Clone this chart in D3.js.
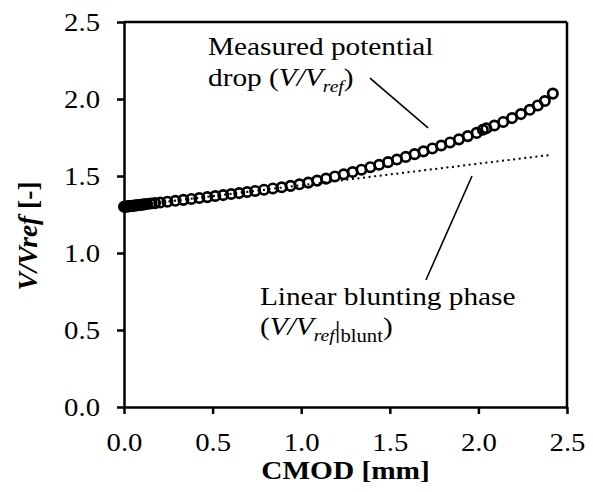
<!DOCTYPE html>
<html>
<head>
<meta charset="utf-8">
<script src="https://cdn.jsdelivr.net/npm/d3@7"></script>
<style>
  body { margin: 0; background: #fff; }
  svg { display: block; font-family: "Liberation Serif", "Times New Roman", serif; }
</style>
</head>
<body>
<div id="chart"></div>
<script>
// measured potential drop, V/Vref vs CMOD [mm]
var cmod = [0.000, 0.006, 0.012, 0.018, 0.024, 0.030, 0.037, 0.044, 0.052, 0.060,
            0.069, 0.079, 0.090, 0.102, 0.115, 0.130, 0.150, 0.175, 0.205, 0.245,
            0.290, 0.335, 0.380, 0.425, 0.470, 0.515, 0.560, 0.605, 0.650, 0.695,
            0.740, 0.790, 0.840, 0.890, 0.940, 0.990, 1.040, 1.090, 1.140, 1.190,
            1.240, 1.290, 1.340, 1.390, 1.440, 1.490, 1.540, 1.590, 1.640, 1.690,
            1.740, 1.790, 1.840, 1.890, 1.940, 1.990, 2.025, 2.045, 2.090, 2.140,
            2.190, 2.240, 2.290, 2.335, 2.375, 2.420];
var vRatio = [1.300, 1.301, 1.302, 1.302, 1.303, 1.304, 1.305, 1.306, 1.307, 1.308,
              1.309, 1.311, 1.312, 1.314, 1.316, 1.318, 1.321, 1.324, 1.328, 1.333,
              1.339, 1.345, 1.351, 1.357, 1.363, 1.370, 1.376, 1.383, 1.389, 1.396,
              1.403, 1.411, 1.419, 1.427, 1.436, 1.446, 1.457, 1.470, 1.483, 1.497,
              1.511, 1.526, 1.541, 1.557, 1.573, 1.590, 1.607, 1.624, 1.642, 1.660,
              1.679, 1.698, 1.718, 1.738, 1.759, 1.780, 1.800, 1.810, 1.828, 1.851,
              1.876, 1.902, 1.930, 1.958, 1.987, 2.035];

// linear blunting phase (dotted)
var bluntCmod = [0.0, 2.40];
var bluntV = [1.300, 1.636];

var xTicks = [0, 0.5, 1.0, 1.5, 2.0, 2.5];
var yTicks = [0, 0.5, 1.0, 1.5, 2.0, 2.5];

var margin = {top: 22, right: 26, bottom: 85, left: 124},
    width = 593,
    height = 492,
    width_g = width - margin.left - margin.right,
    height_g = height - margin.top - margin.bottom;
var stretch = 1.15; // text in the original is a bit wide

var x = d3.scaleLinear().domain([0, 2.5]).range([0, width_g]);
var y = d3.scaleLinear().domain([0, 2.5]).range([height_g, 0]);

var svg = d3.select("#chart").append("svg")
    .attr("width", width)
    .attr("height", height);
var frg = svg.append("g")
    .attr("transform", "translate(" + margin.left + "," + margin.top + ")");

// frame top + right
frg.append("line")
    .attr("x1", 0).attr("x2", width_g).attr("y1", 0).attr("y2", 0)
    .attr("stroke", "#000").attr("stroke-width", 2.5);
frg.append("line")
    .attr("x1", width_g).attr("x2", width_g).attr("y1", 0).attr("y2", height_g)
    .attr("stroke", "#000").attr("stroke-width", 2.5);

var xAxis = d3.axisBottom(x).tickValues(xTicks).tickFormat(d3.format(".1f"))
    .tickSizeInner(7).tickSizeOuter(0);
var yAxis = d3.axisLeft(y).tickValues(yTicks).tickFormat(d3.format(".1f"))
    .tickSizeInner(7).tickSizeOuter(0);

var gx = frg.append("g")
    .attr("transform", "translate(0," + height_g + ")")
    .call(xAxis);
var gy = frg.append("g").call(yAxis);

[gx, gy].forEach(function(g) {
    g.select(".domain").attr("stroke-width", 2.5);
    g.selectAll(".tick line").attr("stroke-width", 2.5);
    g.selectAll(".tick text")
        .attr("font-family", "Liberation Serif, Times New Roman, serif")
        .attr("font-size", 25)
        .attr("fill", "#000");
});
gx.selectAll(".tick text")
    .attr("y", 44).attr("dy", 0)
    .attr("transform", "scale(" + stretch + ",1)");
gy.selectAll(".tick text")
    .attr("x", -24 / stretch)
    .attr("transform", "scale(" + stretch + ",1)");

// dotted blunting line
var bluntData = bluntCmod.map(function(d, i) { return {x: d, v: bluntV[i]}; });
frg.append("path")
    .datum(bluntData)
    .attr("d", d3.line().x(function(d) { return x(d.x); }).y(function(d) { return y(d.v); }))
    .attr("fill", "none")
    .attr("stroke", "#000")
    .attr("stroke-width", 2)
    .attr("stroke-dasharray", "2,3.6");

// measured points
var pts = cmod.map(function(d, i) { return {x: d, v: vRatio[i]}; });
frg.append("g").selectAll("circle")
    .data(pts)
    .enter()
    .append("circle")
    .attr("cx", function(d) { return x(d.x); })
    .attr("cy", function(d) { return y(d.v); })
    .attr("r", 4.7)
    .attr("fill", "none")
    .attr("stroke", "#000")
    .attr("stroke-width", 2.7);

// leader lines (data coords)
var leaders = [
    [[1.388, 2.136], [1.716, 1.812]],
    [[1.964, 1.500], [1.704, 0.825]]
];
leaders.forEach(function(l) {
    frg.append("line")
        .attr("x1", x(l[0][0])).attr("y1", y(l[0][1]))
        .attr("x2", x(l[1][0])).attr("y2", y(l[1][1]))
        .attr("stroke", "#000").attr("stroke-width", 1.6);
});

// annotation text helper
function label(px, py, parts, size) {
    var t = frg.append("text")
        .attr("transform", "translate(" + px + "," + py + ") scale(" + stretch + ",1)")
        .attr("font-size", size)
        .attr("fill", "#000");
    var shift = 0;
    parts.forEach(function(p) {
        var s = t.append("tspan").text(p.t);
        if (p.it) s.attr("font-style", "italic");
        if (p.fs) s.attr("font-size", p.fs);
        var target = p.sub || 0;
        if (target !== shift) { s.attr("dy", target - shift); shift = target; }
    });
    return t;
}

label(x(0.474), y(2.286), [{t: "Measured potential"}], 25.5);
label(x(0.474), y(2.084), [
    {t: "drop ("}, {t: "V/V", it: true},
    {t: "ref", it: true, fs: 17, sub: 6},
    {t: ")"}
], 25.5);

label(x(0.767), y(0.662), [{t: "Linear blunting phase"}], 25.5);
label(x(0.767), y(0.468), [
    {t: "("}, {t: "V/V", it: true},
    {t: "ref", it: true, fs: 17, sub: 6},
    {t: "|", fs: 25, sub: 3},
    {t: "blunt", fs: 18, sub: 7},
    {t: ")"}
], 25.5);

// axis titles
svg.append("text")
    .attr("transform", "translate(" + (margin.left + width_g / 2) + ",479) scale(" + stretch + ",1)")
    .attr("text-anchor", "middle")
    .attr("font-size", 25.5)
    .attr("font-weight", "bold")
    .text("CMOD [mm]");

var yt = svg.append("text")
    .attr("transform", "translate(37,236) rotate(-90)")
    .attr("text-anchor", "middle")
    .attr("font-size", 27.5)
    .attr("font-weight", "bold");
yt.append("tspan").attr("font-style", "italic").text("V/Vref");
yt.append("tspan").text(" [-]");
</script>
</body>
</html>
